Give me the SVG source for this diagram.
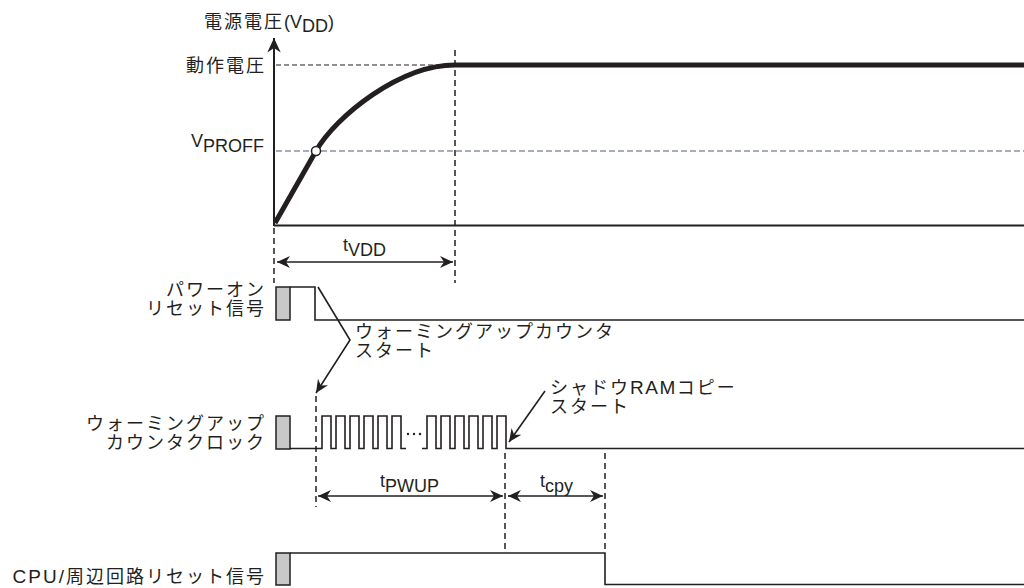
<svg xmlns="http://www.w3.org/2000/svg" width="1024" height="588" viewBox="0 0 1024 588">
<style>
text{font-family:"Liberation Sans","Noto Sans CJK JP",sans-serif;fill:#231f20}
.j{font-size:18px;letter-spacing:2px}
.l{font-size:18px;letter-spacing:0}
.sig{fill:none;stroke:#231f20;stroke-width:1.6}
.dash{fill:none;stroke:#231f20;stroke-width:1.5;stroke-dasharray:6 4}
.thin{fill:none;stroke:#231f20;stroke-width:1.2;stroke-dasharray:5 3}
.box{fill:#c8c8c8;stroke:#231f20;stroke-width:1.5}
.arr{fill:none;stroke:#231f20;stroke-width:1.6}
</style>
<defs>
<marker id="ah" markerUnits="userSpaceOnUse" markerWidth="16" markerHeight="14" viewBox="-14 -7 16 14" refX="0" refY="0" orient="auto-start-reverse">
<path d="M0,0 L-13,-6 L-9,0 L-13,6 Z" fill="#231f20"/>
</marker>
<marker id="axh" markerUnits="userSpaceOnUse" markerWidth="18" markerHeight="18" viewBox="-18 -9 20 18" refX="0" refY="0" orient="auto">
<path d="M0,0 L-16,-7.5 L-11,0 L-16,7.5 Z" fill="#231f20"/>
</marker>
</defs>

<g id="vdd-graph">
<line x1="274" y1="226" x2="274" y2="38" stroke="#231f20" stroke-width="2" marker-end="url(#axh)"/>
<line x1="274" y1="225.5" x2="1024" y2="225.5" stroke="#231f20" stroke-width="2"/>
<line class="thin" x1="276" y1="65" x2="455" y2="65"/>
<line x1="276" y1="151" x2="1024" y2="151" stroke="#8a92a6" stroke-width="1.7" stroke-dasharray="6 3"/>
<path d="M275,223 L316,151 C336,116 400,65 455,65 H1024" fill="none" stroke="#231f20" stroke-width="5"/>
<circle cx="316" cy="151" r="4.5" fill="#fff" stroke="#231f20" stroke-width="1.5"/>
<text class="j" x="204" y="28">電源電圧<tspan class="l">(V</tspan><tspan class="l" dy="4">DD</tspan><tspan class="l" dy="-4">)</tspan></text>
<text class="j" x="266" y="72" text-anchor="end">動作電圧</text>
<text class="l" x="264" y="147" text-anchor="end">V<tspan dy="5">PROFF</tspan></text>
</g>

<g id="connectors">
<line class="dash" x1="455" y1="50" x2="455" y2="283"/>
<line class="dash" x1="274" y1="228" x2="274" y2="283"/>
<line class="dash" x1="316" y1="396" x2="316" y2="507"/>
<line class="dash" x1="505" y1="453" x2="505" y2="553"/>
<line class="dash" x1="605" y1="453" x2="605" y2="553"/>
<line class="arr" x1="277" y1="262" x2="453" y2="262" marker-start="url(#ah)" marker-end="url(#ah)"/>
<line class="arr" x1="318" y1="496" x2="503" y2="496" marker-start="url(#ah)" marker-end="url(#ah)"/>
<line class="arr" x1="508" y1="496" x2="603" y2="496" marker-start="url(#ah)" marker-end="url(#ah)"/>
<polyline class="arr" points="318,287 350,340 316,393" marker-end="url(#ah)"/>
<line class="arr" x1="545" y1="391" x2="509" y2="442" marker-end="url(#ah)"/>
<text class="l" x="343" y="251">t<tspan dy="5">VDD</tspan></text>
<text class="l" x="380" y="487">t<tspan dy="5">PWUP</tspan></text>
<text class="l" x="540" y="487">t<tspan dy="5">cpy</tspan></text>
</g>

<g id="power-on-reset">
<rect class="box" x="276" y="287" width="14" height="33"/>
<path class="sig" d="M290,287 H315 V320 H1024"/>
<text class="j" x="266" y="296" text-anchor="end">パワーオン</text>
<text class="j" x="266" y="315" text-anchor="end">リセット信号</text>
<text class="j" x="355" y="338">ウォーミングアップカウンタ</text>
<text class="j" x="355" y="357">スタート</text>
</g>

<g id="warmup-clock">
<rect class="box" x="276" y="416" width="14" height="33"/>
<path class="sig" d="M290,448.5 H322 V416 H331 V448.5 H336 V416 H345 V448.5 H350 V416 H359 V448.5 H364 V416 H373 V448.5 H378 V416 H387 V448.5 H392 V416 H401 V448.5 H406"/>
<path class="sig" d="M422,448.5 H427 V416 H436 V448.5 H441 V416 H450 V448.5 H455 V416 H464 V448.5 H469 V416 H478 V448.5 H483 V416 H492 V448.5 H497 V416 H506 V448.5 H1024"/>
<circle cx="408" cy="434" r="1.2" fill="#231f20"/>
<circle cx="414" cy="434" r="1.2" fill="#231f20"/>
<circle cx="420" cy="434" r="1.2" fill="#231f20"/>
<text class="j" x="266" y="430" text-anchor="end">ウォーミングアップ</text>
<text class="j" x="266" y="449" text-anchor="end">カウンタクロック</text>
<text class="j" x="550" y="394">シャドウ<tspan style="font-size:19px;letter-spacing:1.5px">RAM</tspan>コピー</text>
<text class="j" x="550" y="413">スタート</text>
</g>

<g id="cpu-reset">
<rect class="box" x="276" y="553" width="14" height="32"/>
<path class="sig" d="M290,553 H605 V584.5 H1024"/>
<text class="j" x="266" y="583" text-anchor="end"><tspan style="font-size:19px">CPU/</tspan>周辺回路リセット信号</text>
</g>
</svg>
